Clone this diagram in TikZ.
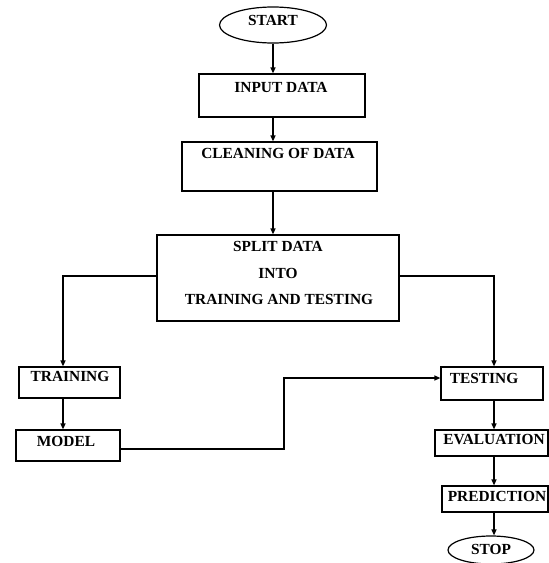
\documentclass[tikz,border=0pt]{standalone}
\usepackage{fontspec}
\setmainfont{Liberation Serif}
\usetikzlibrary{arrows.meta,shapes.geometric}
\begin{document}
\begin{tikzpicture}[x=1pt,y=-1pt,
  box/.style={draw,line width=1.2pt,rectangle,inner sep=0pt},
  oval/.style={draw,line width=1.2pt,ellipse,inner sep=0pt},
  lbl/.style={inner sep=0pt,font=\fontsize{15.4}{18}\selectfont\bfseries},
  arr/.style={line width=1.2pt,-{Triangle[length=6pt,width=5pt]}},
  ln/.style={line width=1.2pt}]
\useasboundingbox (0,0) rectangle (549,563);
% shapes
\node[oval,minimum width=107pt,minimum height=36pt] (start) at (273,25) {};
\node[box,minimum width=166pt,minimum height=43pt] (input) at (282,95.5) {};
\node[box,minimum width=195pt,minimum height=49pt] (clean) at (279.5,166.5) {};
\node[box,minimum width=242pt,minimum height=86pt] (split) at (278,278) {};
\node[box,minimum width=101pt,minimum height=31pt] (train) at (69.5,382.5) {};
\node[box,minimum width=104pt,minimum height=31pt] (model) at (68,445.5) {};
\node[box,minimum width=102pt,minimum height=33pt] (test) at (492,383.5) {};
\node[box,minimum width=113pt,minimum height=26pt] (eval) at (491.5,443) {};
\node[box,minimum width=106pt,minimum height=26pt] (pred) at (495,499) {};
\node[oval,minimum width=86pt,minimum height=28pt] (stop) at (491,550) {};
% texts
\node[lbl] (tstart) at (273,20.5) {START};
\node[lbl] (tinput) at (281,87) {INPUT DATA};
\node[lbl] (tclean) at (278,153) {CLEANING OF DATA};
\node[lbl] (tsplit1) at (278,246) {SPLIT DATA};
\node[lbl] (tsplit2) at (278,273) {INTO};
\node[lbl] (tsplit3) at (279,299) {TRAINING AND TESTING};
\node[lbl] (ttrain) at (70,376) {TRAINING};
\node[lbl] (tmodel) at (66,441) {MODEL};
\node[lbl] (ttest) at (484,378) {TESTING};
\node[lbl] (teval) at (494,440) {EVALUATION};
\node[lbl] (tpred) at (497,496) {PREDICTION};
\node[lbl] (tstop) at (491,549) {STOP};
% guide coordinates
\coordinate (cx) at (273,0);
\coordinate (lx) at (63,276);
\coordinate (rx) at (494,276);
\coordinate (mx) at (284,0);
% connectors
\draw[arr] (start.south) -- (start.south |- input.north);
\draw[arr] (input.south -| cx) -- (clean.north -| cx);
\draw[arr] (clean.south -| cx) -- (split.north -| cx);
\draw[arr] (split.west |- lx) -- (lx) -- (lx |- train.north);
\draw[arr] (split.east |- rx) -- (rx) -- (rx |- test.north);
\draw[arr] (train.south -| lx) -- (model.north -| lx);
\draw[arr] (model.east |- 0,449) -- (mx |- 0,449) -- (mx |- 0,378) -- (test.west |- 0,378);
\draw[arr] (test.south -| rx) -- (eval.north -| rx);
\draw[arr] (eval.south -| rx) -- (pred.north -| rx);
\draw[arr] (pred.south -| rx) -- (stop.north -| rx);
\end{tikzpicture}
\end{document}
